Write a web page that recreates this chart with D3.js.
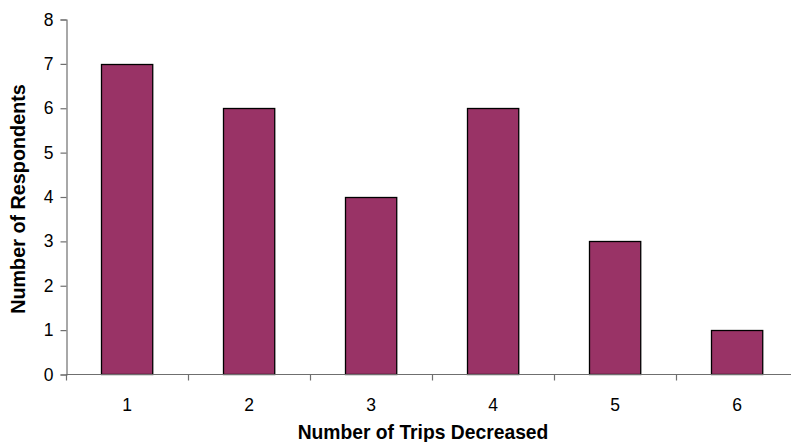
<!DOCTYPE html>
<html>
<head>
<meta charset="utf-8">
<script src="https://cdn.jsdelivr.net/npm/d3@7"></script>
<style>
  html, body { margin: 0; padding: 0; background: #fff; }
  svg { display: block; }
</style>
</head>
<body>
<svg id="chart" width="791" height="442"></svg>
<script>
const categories = ["1", "2", "3", "4", "5", "6"];
const respondents = [7, 6, 4, 6, 3, 1];
const yTicks = [0, 1, 2, 3, 4, 5, 6, 7, 8];
const xTitle = "Number of Trips Decreased";
const yTitle = "Number of Respondents";

const svg = d3.select("#chart");
const font = "Arial, 'Liberation Sans', Helvetica, sans-serif";

const x = d3.scaleBand().domain(categories).range([66, 798]).paddingInner(0.58).paddingOuter(0.29);
const y = d3.scaleLinear().domain([0, 8]).range([374.5, 19.5]);

const data = categories.map((c, i) => ({ c, v: respondents[i] }));

// bars
svg.append("g").selectAll("rect").data(data).join("rect")
  .attr("x", d => Math.round(x(d.c)) + 0.5)
  .attr("y", d => Math.round(y(d.v)) + 0.5)
  .attr("width", x.bandwidth())
  .attr("height", d => y(0) - Math.round(y(d.v)) - 0.5)
  .attr("fill", "#993366")
  .attr("stroke", "#000")
  .attr("stroke-width", 1.3);

// y axis
const yAxis = svg.append("g").attr("transform", "translate(66.5,0)")
  .call(d3.axisLeft(y).tickValues(yTicks).tickFormat(d3.format("d")).tickSize(6).tickPadding(7));
yAxis.select(".domain").attr("stroke", "#6f6f6f").attr("stroke-width", 1.2);
yAxis.selectAll(".tick line").attr("stroke", "#6f6f6f").attr("stroke-width", 1.2);
yAxis.selectAll("text").attr("font-family", font).attr("font-size", 17.5).attr("fill", "#000");

// x axis
const xAxis = svg.append("g").attr("transform", "translate(0,374.5)");
xAxis.append("line").attr("x1", 66).attr("x2", 791).attr("stroke", "#6f6f6f").attr("stroke-width", 1.2);
const step = x.step();
const bounds = d3.range(categories.length + 1).map(i => 66 + i * step).filter(v => v <= 791);
xAxis.selectAll("line.tk").data(bounds).join("line").attr("class", "tk")
  .attr("x1", d => Math.round(d) + 0.5).attr("x2", d => Math.round(d) + 0.5)
  .attr("y1", 0).attr("y2", 6)
  .attr("stroke", "#6f6f6f").attr("stroke-width", 1.2);
xAxis.selectAll("text").data(categories).join("text")
  .attr("x", d => x(d) + x.bandwidth() / 2)
  .attr("y", 36)
  .attr("text-anchor", "middle")
  .attr("font-family", font).attr("font-size", 17.5).attr("fill", "#000")
  .text(d => d);

// titles
svg.append("text")
  .attr("x", 423).attr("y", 439)
  .attr("text-anchor", "middle")
  .attr("font-family", font).attr("font-size", 19.3).attr("font-weight", "bold")
  .text(xTitle);

svg.append("text")
  .attr("transform", "translate(25,199) rotate(-90)")
  .attr("text-anchor", "middle")
  .attr("font-family", font).attr("font-size", 19.8).attr("font-weight", "bold")
  .text(yTitle);
</script>
</body>
</html>
